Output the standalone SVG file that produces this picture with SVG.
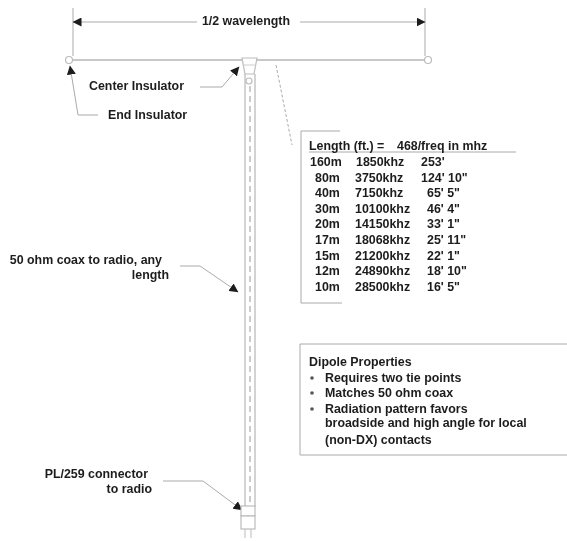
<svg xmlns="http://www.w3.org/2000/svg" width="567" height="541" viewBox="0 0 567 541">
<style>
text{font-family:"Liberation Sans",Arial,sans-serif;font-size:12.4px;font-weight:bold;fill:#1c1c1c}
.e{text-anchor:end}
.m{text-anchor:middle}
.l{fill:none;stroke:#aaa;stroke-width:1}
.w{fill:none;stroke:#c8c8c8;stroke-width:2.2}
.b{fill:#fff;stroke:#bcbcbc;stroke-width:1.2}
</style>
<defs>
<marker id="a" markerWidth="10" markerHeight="9" refX="8.5" refY="4.5" orient="auto" markerUnits="userSpaceOnUse"><path d="M0 0L9 4.5L0 9Z" fill="#1c1c1c"/></marker>
<filter id="soft" x="0" y="0" width="100%" height="100%"><feGaussianBlur stdDeviation="0.7"/></filter>
</defs>
<rect width="567" height="541" fill="#fff"/>
<g filter="url(#soft)">
<g id="connectors">
<path class="l" d="M73 8V56M425 8V56"/>
<path class="l" d="M197 22H73" marker-end="url(#a)"/>
<path class="l" d="M300 22H425" marker-end="url(#a)"/>
<path class="l" d="M98 115H78L70 66" marker-end="url(#a)"/>
<path class="l" d="M200 87H222L239 67" marker-end="url(#a)"/>
<path class="l" stroke-dasharray="3 2" d="M276 65L292 145"/>
<path class="l" d="M180 266H200L238 292" marker-end="url(#a)"/>
<path class="l" d="M163 481H203L242 510" marker-end="url(#a)"/>
</g>
<g id="dipole-wire"><path class="w" d="M73 60H425"/></g>
<g id="end-insulator-left"><circle class="b" cx="69" cy="60" r="3.5"/></g>
<g id="end-insulator-right"><circle class="b" cx="428" cy="60" r="3.5"/></g>
<g id="coax"><path d="M245 74V507" stroke="#aaa" fill="none"/><path d="M255 74V507" stroke="#c8c8c8" stroke-width="1.6" fill="none"/><path d="M250 86V507" stroke="#999" stroke-dasharray="6 4" fill="none"/></g>
<g id="center-insulator"><path class="b" d="M242 58H257L254 74H245Z"/><path d="M243 65H256" stroke="#ccc"/><circle class="b" cx="249" cy="81" r="3"/></g>
<g id="pl259"><rect class="b" x="241" y="506" width="14" height="10"/><rect class="b" x="241" y="516" width="14" height="13"/><path d="M245 529V538M251 529V538" stroke="#bbb"/></g>
<g id="labels">
<text class="m" x="246" y="25">1/2 wavelength</text>
<text x="89" y="90">Center Insulator</text>
<text x="108" y="119">End Insulator</text>
<text class="e" x="162" y="264">50 ohm coax to radio, any</text>
<text class="e" x="169" y="279">length</text>
<text class="e" x="148" y="478">PL/259 connector</text>
<text class="e" x="152" y="493">to radio</text>
</g>
<g id="length-table">
<path class="l" d="M301 131V303M301 131H340M301 303H342M309 152H516"/>
<text x="309" y="150">Length (ft.) = <tspan x="397">468/freq in mhz</tspan></text>
<g id="rows">
<text x="310" y="166">160m</text><text x="356" y="166">1850khz</text><text x="421" y="166">253'</text>
<text x="315" y="182">80m</text><text x="355" y="182">3750khz</text><text x="421" y="182">124' 10"</text>
<text x="315" y="197">40m</text><text x="355" y="197">7150khz</text><text x="427" y="197">65' 5"</text>
<text x="315" y="213">30m</text><text x="355" y="213">10100khz</text><text x="427" y="213">46' 4"</text>
<text x="315" y="228">20m</text><text x="355" y="228">14150khz</text><text x="427" y="228">33' 1"</text>
<text x="315" y="244">17m</text><text x="355" y="244">18068khz</text><text x="427" y="244">25' 11"</text>
<text x="315" y="260">15m</text><text x="355" y="260">21200khz</text><text x="427" y="260">22' 1"</text>
<text x="315" y="275">12m</text><text x="355" y="275">24890khz</text><text x="427" y="275">18' 10"</text>
<text x="315" y="291">10m</text><text x="355" y="291">28500khz</text><text x="427" y="291">16' 5"</text>
</g>
</g>
<g id="dipole-properties">
<path class="l" d="M567 344H300V455H567"/>
<text x="309" y="366">Dipole Properties</text>
<circle cx="312" cy="378" r="1.8" fill="#555"/><text x="325" y="382">Requires two tie points</text>
<circle cx="312" cy="393" r="1.8" fill="#555"/><text x="325" y="397">Matches 50 ohm coax</text>
<circle cx="312" cy="409" r="1.8" fill="#555"/><text x="325" y="413">Radiation pattern favors</text>
<text x="325" y="427">broadside and high angle for local</text>
<text x="325" y="444">(non-DX) contacts</text>
</g>
</g>
</svg>
